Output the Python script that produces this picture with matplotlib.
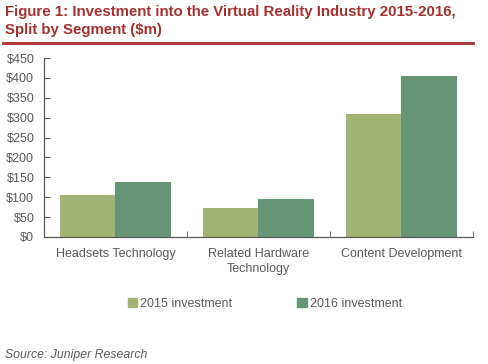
import matplotlib.pyplot as plt
import numpy as np
from matplotlib.lines import Line2D
from matplotlib.patches import Patch

plt.rcParams['font.family'] = ['Liberation Sans', 'DejaVu Sans']

categories = ["Headsets Technology", "Related Hardware\nTechnology", "Content Development"]
inv_2015 = [105, 74, 310]
inv_2016 = [138, 96, 405]
series_names = ["2015 investment", "2016 investment"]
yticks = [0, 50, 100, 150, 200, 250, 300, 350, 400, 450]

c2015 = "#a3b374"
c2016 = "#669476"
grey = "#595959"
red = "#a5302d"

fig = plt.figure(figsize=(4.88, 3.64), dpi=100)
W, H = 488, 364
ax = fig.add_axes([44 / W, 1 - 237 / H, (473 - 44) / W, (237 - 58) / H])

x = np.arange(len(categories))
bw = 0.385
ax.bar(x - bw / 2, inv_2015, bw, color=c2015, label=series_names[0])
ax.bar(x + bw / 2, inv_2016, bw, color=c2016, label=series_names[1])

ax.set_xlim(-0.5, 2.5)
ax.set_ylim(0, 450)
ax.set_yticks(yticks)
ax.set_yticklabels(["$" + str(v) for v in yticks], fontsize=9, color=grey)
ax.set_xticks(x)
ax.set_xticklabels(categories, fontsize=9, color=grey, linespacing=1.3)
ax.tick_params(axis='x', length=0, pad=8)
ax.set_xticks([0.5, 1.5, 2.5], minor=True)
ax.tick_params(axis='x', which='minor', direction='in', length=4, color=grey)
ax.tick_params(axis='y', direction='in', length=4, color=grey, pad=7)

for s in ['top', 'right']:
    ax.spines[s].set_visible(False)
for s in ['left', 'bottom']:
    ax.spines[s].set_color(grey)
    ax.spines[s].set_linewidth(0.9)

fig.text(5 / W, 1 - 5 / H, "Figure 1: Investment into the Virtual Reality Industry 2015-2016,\nSplit by Segment ($m)",
         fontsize=10.8, fontweight='bold', color=red, va='top', linespacing=1.35)
fig.add_artist(Line2D([3 / W, 473 / W], [1 - 43 / H, 1 - 43 / H], color=red, lw=2))

handles = [Patch(color=c2015), Patch(color=c2016)]
fig.legend(handles, series_names, loc='center', bbox_to_anchor=(265 / W, 1 - 304 / H), ncol=2,
           frameon=False, fontsize=9, handlelength=0.75, handleheight=0.75, handletextpad=0.25,
           columnspacing=5.2, labelcolor=grey)

fig.text(5 / W, 1 - 355 / H, "Source: Juniper Research", fontsize=8.8, style='italic', color=grey, va='center')

fig.savefig("out.png", dpi=100)
